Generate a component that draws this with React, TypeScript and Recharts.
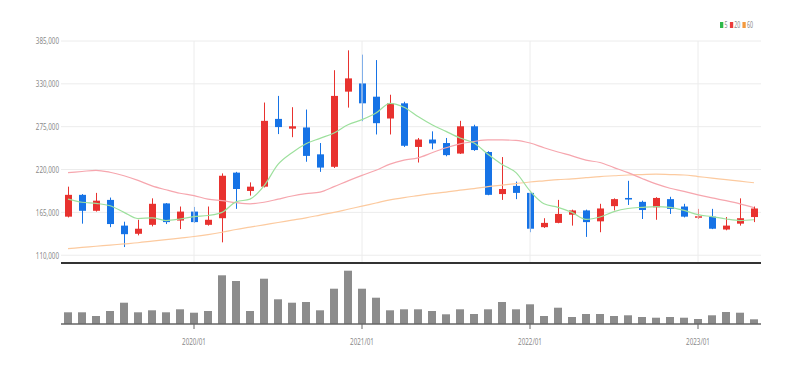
import React from 'react'
import {
  ComposedChart,
  Bar,
  Line,
  XAxis,
  YAxis,
  CartesianGrid,
  ReferenceLine,
} from 'recharts'

// monthly candles, 2019/04 - 2023/05
const months = [
  '2019/04', '2019/05', '2019/06', '2019/07', '2019/08', '2019/09', '2019/10', '2019/11', '2019/12',
  '2020/01', '2020/02', '2020/03', '2020/04', '2020/05', '2020/06', '2020/07', '2020/08', '2020/09', '2020/10', '2020/11', '2020/12',
  '2021/01', '2021/02', '2021/03', '2021/04', '2021/05', '2021/06', '2021/07', '2021/08', '2021/09', '2021/10', '2021/11', '2021/12',
  '2022/01', '2022/02', '2022/03', '2022/04', '2022/05', '2022/06', '2022/07', '2022/08', '2022/09', '2022/10', '2022/11', '2022/12',
  '2023/01', '2023/02', '2023/03', '2023/04', '2023/05',
]

const opens = [
  159500, 187500, 167000, 181000, 148000, 137500, 149000, 176500, 154500, 166000,
  149000, 157500, 216000, 192500, 198000, 285000, 272500, 274000, 239500, 223500,
  320000, 330500, 313500, 285500, 305000, 249000, 258500, 254000, 240500, 275500,
  242500, 188500, 199000, 190000, 146000, 151500, 162000, 167500, 153500, 173000,
  183500, 178500, 171500, 182000, 172500, 158500, 159500, 143000, 150500, 159000,
]
const closes = [
  187500, 167000, 180000, 150000, 137000, 144000, 176000, 152500, 166000, 152500,
  155500, 212000, 195000, 198000, 282500, 274500, 275500, 237500, 222500, 314500,
  337000, 305000, 279500, 305000, 250500, 258500, 253500, 238500, 275500, 245000,
  187500, 195000, 190000, 144000, 151500, 163000, 167500, 152500, 170000, 182000,
  181500, 168000, 183500, 169500, 159500, 160000, 144000, 148000, 157500, 170000,
]
const highs = [
  198000, 188500, 190000, 184000, 153000, 155500, 183000, 177000, 172500, 172000,
  172500, 215000, 217000, 203500, 306000, 314500, 300000, 297000, 254000, 347500,
  373000, 367500, 360500, 316000, 307000, 260500, 269000, 260500, 282500, 277500,
  243500, 236000, 204500, 190500, 157500, 181000, 168500, 168500, 176000, 183000,
  205500, 180000, 184500, 185000, 176000, 169500, 169500, 159000, 183000, 172500,
]
const lows = [
  158500, 150500, 166000, 146000, 120500, 135500, 147000, 150000, 143500, 151500,
  148000, 126500, 169500, 186500, 197000, 265500, 261500, 230000, 217000, 222000,
  299500, 282000, 265000, 265000, 249000, 229000, 246000, 237000, 240000, 244000,
  187000, 181000, 182000, 139500, 145000, 151000, 148000, 133500, 139500, 167500,
  174500, 156500, 155500, 163000, 158500, 156500, 143500, 142000, 148000, 152500,
]
const volumes = [
  117000, 117000, 80000, 130000, 213000, 117000, 137000, 117000, 147000, 113000,
  130000, 487000, 430000, 130000, 453000, 247000, 213000, 220000, 137000, 353000,
  533000, 353000, 263000, 137000, 147000, 147000, 130000, 97000, 147000, 100000,
  147000, 220000, 147000, 197000, 80000, 163000, 70000, 100000, 100000, 80000,
  87000, 70000, 63000, 70000, 63000, 50000, 87000, 120000, 113000, 47000,
]
const ma5 = [
  182000, 178000, 176500, 173500, 165000, 157000, 158000, 154500, 156500, 159500,
  161000, 165000, 178500, 182000, 199000, 226500, 241500, 253000, 260000, 267000,
  277500, 284000, 292500, 305000, 300000, 288000, 277500, 269000, 260500, 254000,
  239500, 226500, 216000, 192500, 176000, 171500, 165000, 156000, 159000, 166000,
  170000, 171500, 172500, 171500, 167500, 162000, 159500, 156500, 154500, 155500,
]
const ma20 = [
  216000, 217500, 219000, 216500, 212000, 206000, 199000, 194000, 189500, 186500,
  182000, 180000, 177500, 176000, 178000, 182000, 186000, 189000, 191000, 198000,
  205500, 212500, 219000, 227000, 232000, 235000, 241500, 248000, 253000, 256000,
  258000, 258000, 257500, 254000, 248000, 242500, 237500, 232000, 229000, 222500,
  216000, 208500, 201500, 196000, 192000, 187500, 183500, 180000, 176000, 171000,
]
const ma60 = [
  118500, 120000, 121500, 123000, 124500, 126000, 128000, 130000, 132000, 134000,
  136500, 139500, 143000, 146000, 149000, 152000, 155000, 158000, 161500, 165000,
  169000, 173000, 177000, 181000, 184000, 186500, 189000, 191000, 193500, 195500,
  198000, 200000, 202000, 204000, 205500, 207000, 208000, 209500, 211000, 212000,
  213000, 213500, 214000, 213500, 213000, 211000, 209000, 207000, 205000, 203000,
]

const priceTicks = [110000, 165000, 220000, 275000, 330000, 385000]
const yearTicks = ['2020/01', '2021/01', '2022/01', '2023/01']

const RED = '#e8322f'
const BLUE = '#1673e6'

const data = months.map((m, i) => ({
  month: m,
  open: opens[i],
  close: closes[i],
  high: highs[i],
  low: lows[i],
  volume: volumes[i],
  ma5: ma5[i],
  ma20: ma20[i],
  ma60: ma60[i],
}))

const Candle = (props: any) => {
  const { x, y, width, height, payload } = props
  const { open, close, high, low } = payload
  const top = Math.min(y, y + height)
  const h = Math.abs(height)
  const ratio = h / (high - low)
  const color = close >= open ? RED : BLUE
  const bodyTop = top + (high - Math.max(open, close)) * ratio
  const bodyH = Math.max(1.5, Math.abs(open - close) * ratio)
  const cx = Math.floor(x + width / 2) + 0.5
  return (
    <g>
      <line x1={cx} x2={cx} y1={top} y2={top + h} stroke={color} strokeWidth={1} />
      <rect x={x} y={bodyTop} width={width} height={bodyH} fill={color} />
    </g>
  )
}

const YTick = ({ x, y, payload }: any) => (
  <text
    transform={`translate(${x},${y}) scale(0.66,1)`}
    textAnchor="end"
    dy="0.355em"
    fontSize={9.5}
    fill="#8a8a8a"
  >
    {Number(payload.value).toLocaleString('en-US')}
  </text>
)

const XTick = ({ x, y, payload }: any) => (
  <text
    transform={`translate(${x},${y}) scale(0.66,1)`}
    textAnchor="middle"
    dy="0.71em"
    fontSize={9.5}
    fill="#8a8a8a"
  >
    {payload.value}
  </text>
)

const legendItems = [
  { label: '5', color: '#2fb84a' },
  { label: '20', color: '#ec3b3b' },
  { label: '60', color: '#f39a3e' },
]

export default function App() {
  return (
    <div style={{ position: 'relative', width: 782, fontFamily: '"Noto Sans", sans-serif' }}>
      <div
        style={{
          position: 'absolute',
          left: 712,
          top: 12,
          display: 'flex',
          alignItems: 'center',
          fontSize: 8,
          lineHeight: '10px',
          color: '#8a8a8a',
          transform: 'scaleX(0.66)',
          transformOrigin: 'left top',
          whiteSpace: 'nowrap',
        }}
      >
        {legendItems.map(it => (
          <span key={it.label} style={{ display: 'flex', alignItems: 'center', marginRight: 3 }}>
            <span style={{ width: 5, height: 6, background: it.color, marginRight: 2 }} />
            {it.label}
          </span>
        ))}
      </div>

      <ComposedChart
        width={782}
        height={258}
        data={data}
        margin={{ top: 33, right: 29, left: 0, bottom: 2 }}
      >
        <CartesianGrid vertical={false} stroke="#ececec" />
        {yearTicks.map(t => (
          <ReferenceLine key={t} x={t} stroke="#ececec" />
        ))}
        <XAxis
          dataKey="month"
          height={1}
          tick={false}
          tickLine={false}
          axisLine={{ stroke: '#333', strokeWidth: 2 }}
        />
        <YAxis
          width={53}
          domain={[100000, 385000]}
          ticks={priceTicks}
          allowDataOverflow
          axisLine={false}
          tickLine={false}
          tickSize={0}
          tickMargin={2}
          tick={<YTick />}
        />
        <Line dataKey="ma60" type="monotone" stroke="#fcca9f" strokeWidth={1.2} dot={false} isAnimationActive={false} />
        <Line dataKey="ma20" type="monotone" stroke="#f6a6ae" strokeWidth={1.2} dot={false} isAnimationActive={false} />
        <Line dataKey="ma5" type="monotone" stroke="#9de09d" strokeWidth={1.2} dot={false} isAnimationActive={false} />
        <Bar
          dataKey={(d: any) => [d.low, d.high]}
          barSize={7}
          shape={<Candle />}
          isAnimationActive={false}
        />
      </ComposedChart>

      <ComposedChart
        width={782}
        height={88}
        data={data}
        margin={{ top: 2, right: 29, left: 53, bottom: 0 }}
      >
        <XAxis
          dataKey="month"
          height={30}
          ticks={yearTicks}
          interval={0}
          axisLine={{ stroke: '#666', strokeWidth: 1.5 }}
          tickLine={{ stroke: '#666' }}
          tickSize={5}
          tickMargin={9}
          tick={<XTick />}
        />
        <YAxis hide domain={[0, 560000]} />
        <Bar dataKey="volume" barSize={8} fill="#8c8c8c" isAnimationActive={false} />
      </ComposedChart>
    </div>
  )
}
